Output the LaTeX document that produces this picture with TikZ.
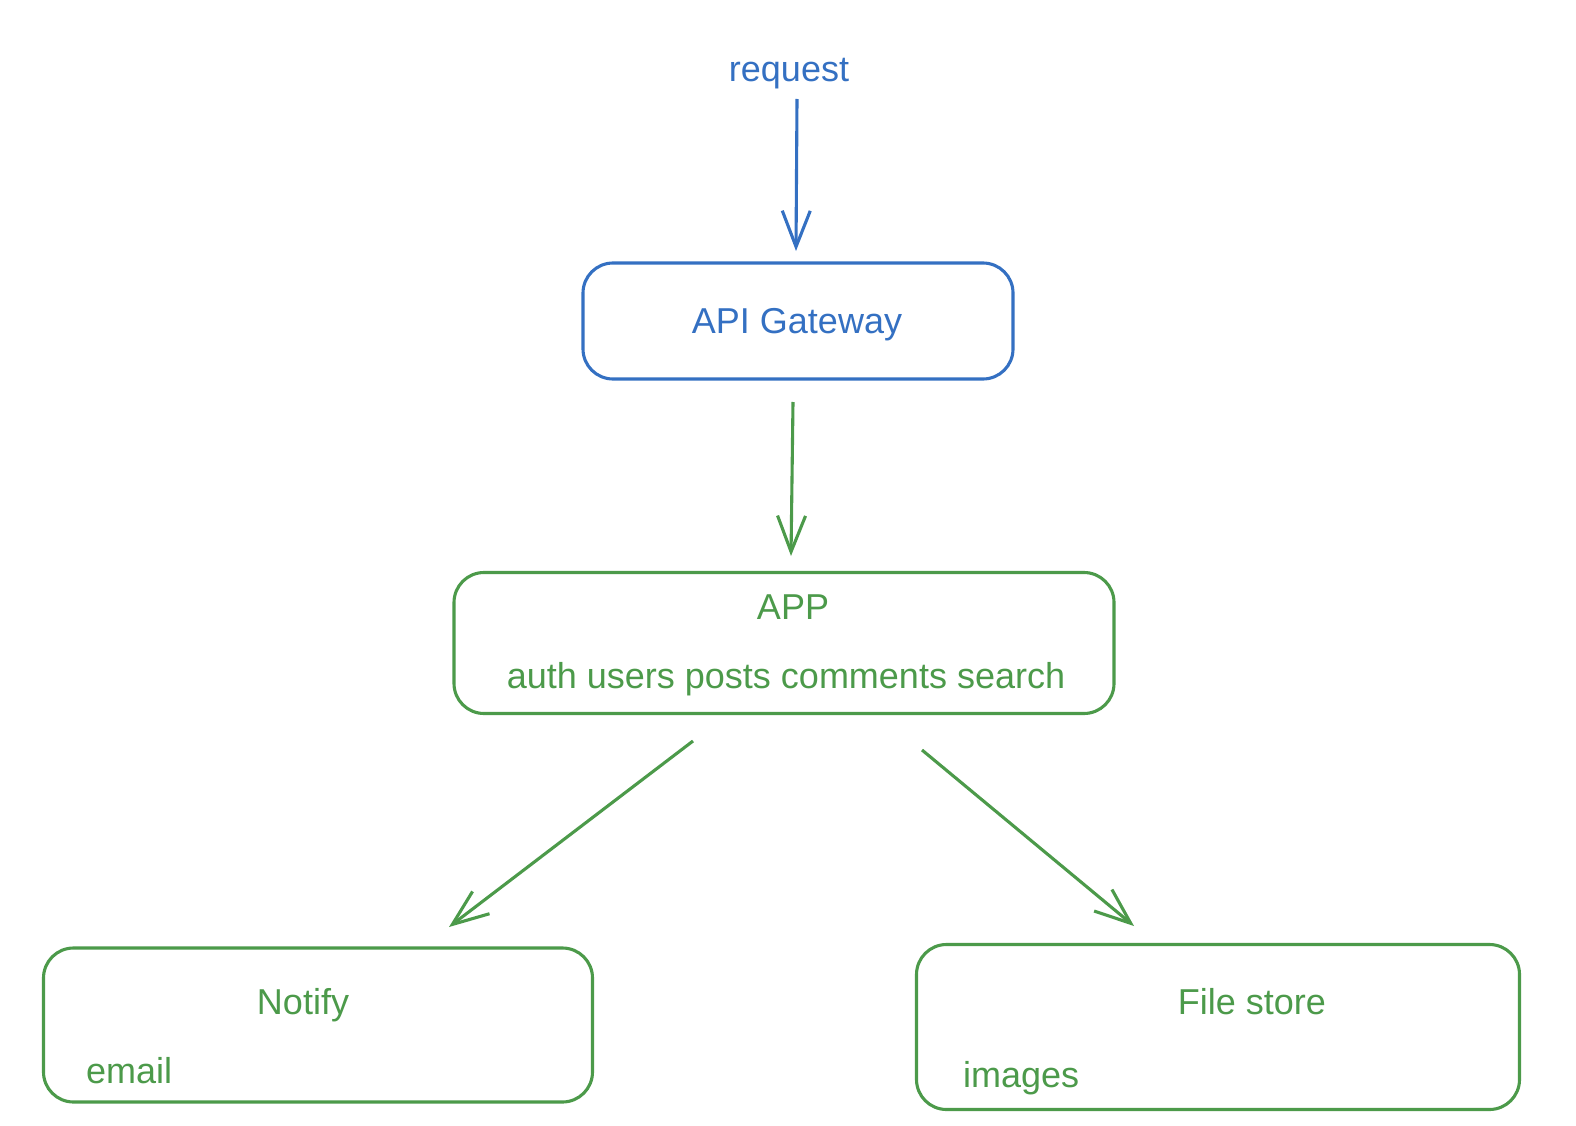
\documentclass[tikz,border=0pt]{standalone}
\usepackage{fontspec}
\setmainfont{Liberation Sans}
\usetikzlibrary{arrows.meta}
\definecolor{bl}{HTML}{3470C2}
\definecolor{gr}{HTML}{4C9A4A}
\begin{document}
\begin{tikzpicture}[x=1pt,y=-1pt,
  box/.style={draw, line width=3.1pt, rounded corners=30pt, inner sep=0pt},
  txt/.style={font=\fontsize{36}{43}\selectfont, inner sep=0pt},
  arr/.style={line width=3.1pt, -{Straight Barb[length=36pt,width=28pt,line width=3.1pt]}}]
\useasboundingbox (0,0) rectangle (1576,1126);
% boxes
\node[box, bl, minimum width=430pt, minimum height=116pt] (api) at (798,321) {};
\node[box, gr, minimum width=660pt, minimum height=141pt] (app) at (784,643) {};
\node[box, gr, minimum width=549pt, minimum height=154pt] (notify) at (318,1025) {};
\node[box, gr, minimum width=603pt, minimum height=165pt] (files) at (1218,1027) {};
% texts
\node[txt, bl] (req) at (789,74) {request};
\node[txt, bl] (apit) at (797,325) {API Gateway};
\node[txt, gr] (appt) at (793,607) {APP};
\node[txt, gr] (appm) at (786,679) {auth users posts comments search};
\node[txt, gr] (nt) at (303,1005) {Notify};
\node[txt, gr, anchor=west] (ne) at (86,1071) {email};
\node[txt, gr] (ft) at (1252,1002) {File store};
\node[txt, gr, anchor=west] (fi) at (963,1078) {images};
% connector ends
\coordinate (r0) at (797,99);
\coordinate (r1) at (796,251);
\coordinate (g0) at (793,402);
\coordinate (g1) at (791,556);
\coordinate (n0) at (693,741);
\coordinate (n1) at (449,927);
\coordinate (f0) at (922,750);
\coordinate (f1) at (1134,926);
\draw[arr, bl] (r0) -- (r1);
\draw[arr, gr] (g0) -- (g1);
\draw[arr, gr] (n0) -- (n1);
\draw[arr, gr] (f0) -- (f1);
\end{tikzpicture}
\end{document}
